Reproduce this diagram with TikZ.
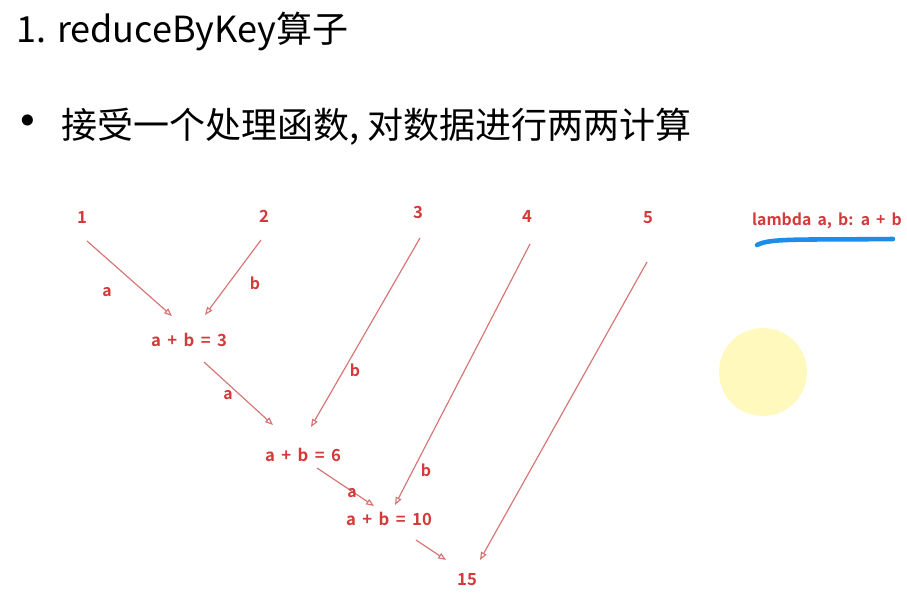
\documentclass[tikz,border=0pt]{standalone}
\usepackage{fontspec}
\newfontfamily\cjk{Noto Sans CJK SC}[BoldFont={Noto Sans CJK SC Bold}]
\newfontfamily\redfont{Noto Sans CJK SC Bold}[WordSpace=1.7]
\usetikzlibrary{arrows.meta,calc}

\definecolor{cTEXT}{RGB}{212,58,58}
\definecolor{cLINE}{RGB}{215,115,115}
\definecolor{cPEN}{RGB}{30,140,232}
\definecolor{cSPOT}{RGB}{255,249,178}

\tikzset{
  num/.style={text=cTEXT,font=\redfont\fontsize{9.5}{11}\selectfont,inner sep=1pt},
  lbl/.style={text=cTEXT,font=\redfont\fontsize{9}{11}\selectfont,inner sep=1pt},
  arr/.style={cLINE,line width=0.65pt,-{Triangle[open,length=4.5pt,width=3.5pt]}},
  head/.style={anchor=west,font=\cjk\fontsize{20.5}{24}\selectfont,inner sep=0pt}
}

\begin{document}
\begin{tikzpicture}[x=0.02cm,y=-0.02cm]
\useasboundingbox[fill=white] (0,0) rectangle (907,609);
% headings
\node[head] (title) at (16,31) {1. reduceByKey算子};
\node[anchor=center,font=\cjk\fontsize{30}{32}\selectfont,inner sep=0pt] (dot) at (28,128) {•};
\node[head] (line) at (61,127) {接受一个处理函数, 对数据进行两两计算};
% inputs
\node[num] (n1) at (82,217) {1};
\node[num] (n2) at (264,216) {2};
\node[num] (n3) at (418,212) {3};
\node[num] (n4) at (527,216) {4};
\node[num] (n5) at (648,218) {5};
% partial sums
\node[num] (s3) at (189,340) {a + b = 3};
\node[num] (s6) at (303,455) {a + b = 6};
\node[num] (s10) at (389,519) {a + b = 10};
\node[num] (r15) at (467,580) {15};
% arrows
\draw[arr] ($(n1)+(5,24)$) -- ($(s3)+(-17,-24)$);
\draw[arr] ($(n2)+(-3,24)$) -- ($(s3)+(16,-25)$);
\draw[arr] ($(s3)+(15,22)$) -- ($(s6)+(-30,-30)$);
\draw[arr] ($(n3)+(2,26)$) -- ($(s6)+(8,-28)$);
\draw[arr] ($(n4)+(3,28)$) -- ($(s10)+(6,-14)$);
\draw[arr] ($(s6)+(14,13)$) -- ($(s10)+(-15,-13)$);
\draw[arr] ($(s10)+(27,21)$) -- ($(r15)+(-21,-20)$);
\draw[arr] ($(n5)+(-1,44)$) -- ($(r15)+(13,-20)$);
% arrow labels
\node[lbl] (a1) at (107,292) {a};
\node[lbl] (b1) at (255,283) {b};
\node[lbl] (a2) at (228,395) {a};
\node[lbl] (b2) at (355,370) {b};
\node[lbl] (a3) at (352,493) {a};
\node[lbl] (b3) at (426,470) {b};
% function
\node[lbl] (fn) at (827,221) {lambda a, b: a + b};
\draw[cPEN,line width=2.6pt,line cap=round] (757,245) .. controls (770,238) and (800,240) .. (893,239);
\fill[cSPOT,opacity=0.85] (763,372) circle (44);
\end{tikzpicture}
\end{document}
